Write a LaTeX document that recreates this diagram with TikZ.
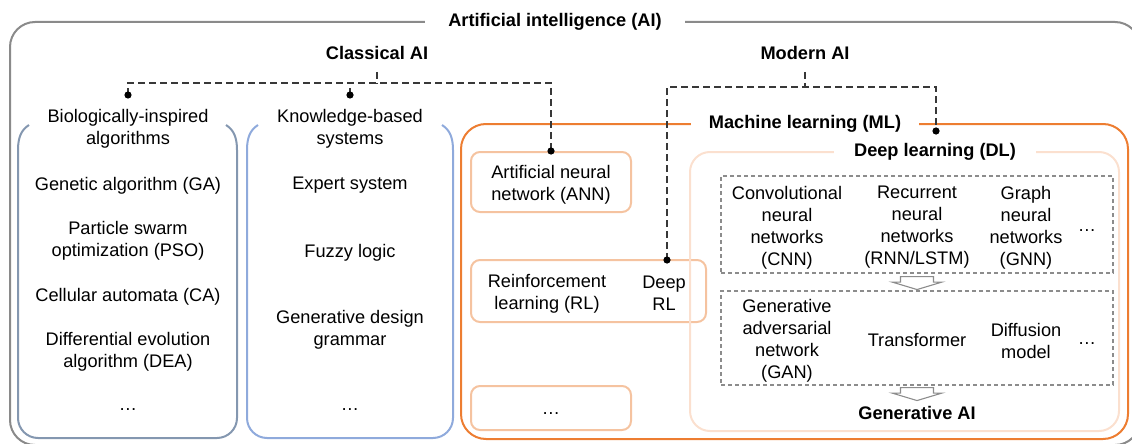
\documentclass[tikz,border=0pt]{standalone}
\usepackage{fontspec}
\setmainfont{Liberation Sans}
\definecolor{aigray}{HTML}{8A8A8A}
\definecolor{bioblue}{HTML}{8497B0}
\definecolor{kbblue}{HTML}{8FAADC}
\definecolor{mlorange}{HTML}{ED7D31}
\definecolor{peach}{HTML}{F5C3A0}
\definecolor{palepeach}{HTML}{FBE0CF}
\definecolor{dashgray}{HTML}{8C8C8C}
\definecolor{linkgray}{HTML}{383838}
\begin{document}
\begin{tikzpicture}[x=1pt,y=-1pt,
  txt/.style={font=\fontsize{18.2}{22}\selectfont, align=center, inner sep=0pt, yshift=-2.5pt},
  ttl/.style={font=\fontsize{18.2}{22}\selectfont\bfseries, align=center, inner sep=0pt},
  gap/.style={ttl, fill=white, inner ysep=3pt},
  link/.style={draw=linkgray, line width=1.4pt, dash pattern=on 7pt off 4pt},
  mlbox/.style={draw=mlorange, line width=2pt, rounded corners=25pt, inner sep=0pt},
  dlbox/.style={draw=palepeach, line width=2pt, rounded corners=20pt, inner sep=0pt},
  lbox/.style={draw=peach, line width=2pt, rounded corners=9pt, inner sep=0pt},
  dbox/.style={draw=dashgray, line width=1.1pt, dash pattern=on 4pt off 3pt, inner sep=0pt},
  harrow/.style={draw=dashgray, line width=1.1pt, fill=white, line join=miter},
]
\useasboundingbox (0,0) rectangle (1132,444);

% ---------- outer frame: artificial intelligence ----------
\draw[aigray, line width=2pt, rounded corners=25pt] (10,22) rectangle (1140,445);
\node[gap, inner xsep=23pt] (ai) at (555,22) {Artificial intelligence (AI)};

\node[ttl] (cl) at (377,53) {Classical AI};
\node[ttl] (md) at (805,53) {Modern AI};

% ---------- classical AI branches ----------
\node[txt] (bio) at (128,126) {Biologically-inspired\\algorithms};
\node[txt] (kb)  at (350,126) {Knowledge-based\\systems};

% open-topped brackets
\draw[bioblue, line width=2pt]
  (29,125) .. controls (21,130) and (18,138) .. (18,150) -- (18,418)
  .. controls (18,429) and (27,438) .. (38,438) -- (217,438)
  .. controls (228,438) and (237,429) .. (237,418) -- (237,150)
  .. controls (237,138) and (234,130) .. (226,125);
\draw[kbblue, line width=2pt]
  (258,125) .. controls (250,130) and (247,138) .. (247,150) -- (247,418)
  .. controls (247,429) and (256,438) .. (267,438) -- (433,438)
  .. controls (444,438) and (453,429) .. (453,418) -- (453,150)
  .. controls (453,138) and (450,130) .. (442,125);

\node[txt] (ga)  at (128,183) {Genetic algorithm (GA)};
\node[txt] (pso) at (128,238) {Particle swarm\\optimization (PSO)};
\node[txt] (ca)  at (128,294) {Cellular automata (CA)};
\node[txt] (dea) at (128,349) {Differential evolution\\algorithm (DEA)};
\node[txt] (bmore) at (128,404) {\strut…};

\node[txt] (es)  at (350,183) {Expert system};
\node[txt] (fl)  at (350,250) {Fuzzy logic};
\node[txt] (gdg) at (350,327.5) {Generative design\\grammar};
\node[txt] (kmore) at (350,404) {\strut…};

% ---------- machine learning ----------
\node[mlbox, minimum width=667pt, minimum height=315pt] (ml) at (794.5,281.5) {};
\node[gap, inner xsep=18pt] (mlt) at (805,124) {Machine learning (ML)};

\node[lbox, minimum width=160pt, minimum height=60pt] (ann) at (551,182) {};
\node[txt] (annt) at (ann.center) {Artificial neural\\network (ANN)};
\node[lbox, minimum width=235pt, minimum height=62pt] (rl) at (588.5,291) {};
\node[txt] (rlt) at (547,291) {Reinforcement\\learning (RL)};
\node[txt] (drl) at (664,291) {Deep\\RL};
\node[lbox, minimum width=160pt, minimum height=44pt] (mlmore) at (551,408) {};
\node[txt] (mlmoret) at (mlmore.center) {\strut…};

% ---------- deep learning ----------
\node[dlbox, minimum width=429pt, minimum height=279pt] (dl) at (904.5,291.5) {};
\node[gap, inner xsep=20pt] (dlt) at (935,152) {Deep learning (DL)};

\node[dbox, minimum width=392pt, minimum height=97pt] (g1) at (917,224.5) {};
\node[txt] (cnn) at (787,225) {Convolutional\\neural\\networks\\(CNN)};
\node[txt] (rnn) at (917,225) {Recurrent\\neural\\networks\\(RNN/LSTM)};
\node[txt] (gnn) at (1026,225) {Graph\\neural\\networks\\(GNN)};
\node[txt] (g1more) at (1087,225) {\strut…};

\node[dbox, minimum width=392pt, minimum height=94pt] (g2) at (917,338) {};
\node[txt] (gan) at (787,338) {Generative\\adversarial\\network\\(GAN)};
\node[txt] (tf)  at (917,338) {Transformer};
\node[txt] (dm)  at (1026,338) {Diffusion\\model};
\node[txt] (g2more) at (1087,338) {\strut…};

\node[ttl] (gai) at (917,413) {Generative AI};

% hollow arrows
\draw[harrow] ([yshift=-3pt]g1.south) ++(-16.5,0) -- ++(33,0) -- ++(0,5.5) -- ++(8.5,0)
  -- ++(-25,7.5) -- ++(-25,-7.5) -- ++(8.5,0) -- cycle;
\draw[harrow] ([yshift=-2pt]g2.south) ++(-16.5,0) -- ++(33,0) -- ++(0,5.5) -- ++(8.5,0)
  -- ++(-25,7.5) -- ++(-25,-7.5) -- ++(8.5,0) -- cycle;

% ---------- dashed hierarchy links ----------
\coordinate (cJ) at (377,83);
\coordinate (bioDot) at (128,95);
\coordinate (kbDot) at (350,95);
\coordinate (annDot) at (ann.north);
\draw[link] ([yshift=-12pt]cl.south) -- (cJ);
\draw[link] (bioDot) |- (cJ) -| (annDot);
\draw[link] (kbDot) -- (kbDot |- cJ);

\coordinate (mJ) at (805,87);
\coordinate (drlDot) at (667,260);
\coordinate (dlDot) at (936,131);
\draw[link] ([yshift=-12pt]md.south) -- (mJ);
\draw[link] (drlDot) |- (mJ) -| (dlDot);

\foreach \p in {bioDot,kbDot,annDot,drlDot,dlDot}
  \fill[black] (\p) circle (3.6);
\end{tikzpicture}
\end{document}
